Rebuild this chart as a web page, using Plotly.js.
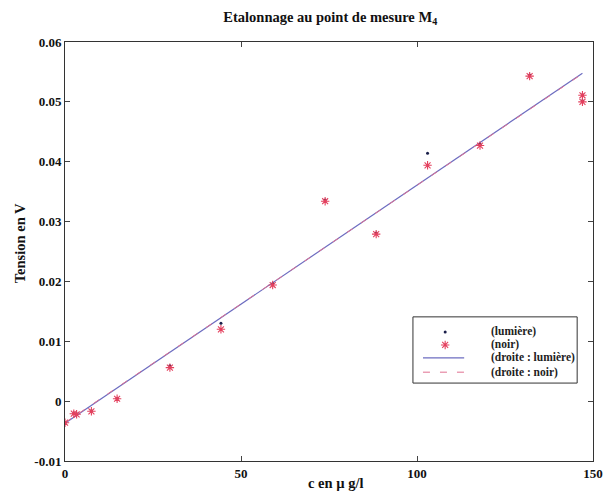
<!DOCTYPE html>
<html><head><meta charset="utf-8">
<script src="https://cdn.plot.ly/plotly-3.0.1.min.js"></script>
<style>body{margin:0;background:#fff}#c{width:606px;height:501px}</style>
</head><body><div id="c"></div>
<script>
// concentration (µg/l)
const conc = [0, 2.5, 3.3, 7.5, 14.8, 29.8, 44.3, 59, 73.9, 88.4, 103, 117.9, 132, 147, 147];
// tension, lumière
const lumiere = [-0.0036, -0.0020, -0.0021, -0.0016, 0.0005, 0.0059, 0.0130, 0.0196, 0.0336, 0.0281, 0.0414, 0.0429, 0.0545, 0.0512, 0.0502];
// tension, noir
const noir = [-0.0036, -0.0021, -0.0022, -0.0017, 0.0004, 0.0056, 0.0120, 0.0194, 0.0334, 0.0279, 0.0394, 0.0427, 0.0543, 0.0511, 0.0500];
// fitted lines
const fitX = [0, 147];
const fitLumiere = [-0.0037, 0.0548];
const fitNoir = [-0.0036, 0.0547];
const yTicks = [-0.01, 0, 0.01, 0.02, 0.03, 0.04, 0.05, 0.06];
const yTickText = ['-0.01', '0', '0.01', '0.02', '0.03', '0.04', '0.05', '0.06'];
const xTicks = [0, 50, 100, 150];
const legendNames = ['(lumière)', '(noir)', '(droite : lumière)', '(droite : noir)'];

const FAM = 'Liberation Serif, Times New Roman, serif';
const colDot = '#1a1f4a', colStar = '#e4405e', colLine = '#6c6cc0', colDash = '#e07090';

// manual legend geometry (paper coords)
const LG = {x0: 0.659, x1: 0.970, y0: 0.186, y1: 0.344, rows: [0.308, 0.277, 0.246, 0.212],
            mx: 0.720, lx0: 0.678, lx1: 0.756, tx: 0.803};

const data = [
  {x: fitX, y: fitLumiere, mode: 'lines', name: legendNames[2], line: {color: colLine, width: 1.2}},
  {x: fitX, y: fitNoir, mode: 'lines', name: legendNames[3], line: {color: colDash, width: 1, dash: '7px,10px'}},
  {x: conc, y: lumiere, mode: 'markers', name: legendNames[0], marker: {symbol: 'circle', size: 3, color: colDot}},
  {x: conc, y: noir, mode: 'markers', name: legendNames[1],
   marker: {symbol: 'asterisk-open', size: 7, color: colStar, line: {color: colStar, width: 1.1}}},
  // legend marker samples
  {x: [LG.mx], y: [LG.rows[0]], xaxis: 'x2', yaxis: 'y2', mode: 'markers', hoverinfo: 'skip',
   marker: {symbol: 'circle', size: 3, color: colDot}},
  {x: [LG.mx], y: [LG.rows[1]], xaxis: 'x2', yaxis: 'y2', mode: 'markers', hoverinfo: 'skip',
   marker: {symbol: 'asterisk-open', size: 7, color: colStar, line: {color: colStar, width: 1.1}}}
];

const shapes = [
  {type: 'rect', xref: 'paper', yref: 'paper', x0: LG.x0, x1: LG.x1, y0: LG.y0, y1: LG.y1,
   line: {color: '#333', width: 1}, fillcolor: '#fff', layer: 'below'},
  {type: 'line', xref: 'paper', yref: 'paper', x0: LG.lx0, x1: LG.lx1, y0: LG.rows[2], y1: LG.rows[2],
   line: {color: colLine, width: 1.2}},
  {type: 'line', xref: 'paper', yref: 'paper', x0: LG.lx0, x1: LG.lx1, y0: LG.rows[3], y1: LG.rows[3],
   line: {color: colDash, width: 1, dash: '7px,10px'}}
];
const annotations = legendNames.map((t, i) => ({
  xref: 'paper', yref: 'paper', x: LG.tx, y: LG.rows[i], xanchor: 'left', yanchor: 'middle',
  text: '<b>' + t + '</b>', showarrow: false, font: {family: FAM, size: 11.5, color: '#222'}
}));
annotations.push(
  {xref: 'paper', yref: 'paper', x: 0.513, y: -0.052, xanchor: 'center', yanchor: 'middle', showarrow: false,
   text: '<b>c en µ g/l</b>', font: {family: FAM, size: 14.5, color: '#111'}},
  {xref: 'paper', yref: 'paper', x: -0.085, y: 0.52, xanchor: 'center', yanchor: 'middle', showarrow: false,
   textangle: -90, text: '<b>Tension en V</b>', font: {family: FAM, size: 14.5, color: '#111'}}
);

const layout = {
  width: 606, height: 501,
  margin: {l: 65, r: 13, t: 42, b: 40},
  paper_bgcolor: '#fff', plot_bgcolor: '#fff',
  font: {family: FAM, color: '#111'},
  showlegend: false,
  title: {text: '<b>Etalonnage au point de mesure M<sub>4</sub></b>', x: 0.545, xanchor: 'center',
          y: 0.966, yanchor: 'middle', font: {family: FAM, size: 14.5, color: '#111'}},
  xaxis: {range: [0, 150], tickvals: xTicks, ticktext: xTicks.map(String), ticks: 'inside', ticklen: 5,
          showline: true, linecolor: '#333', linewidth: 1, mirror: 'ticks', showgrid: false, zeroline: false,
          tickfont: {family: FAM, size: 13, weight: 'bold', color: '#111'}},
  yaxis: {range: [-0.01, 0.06], tickvals: yTicks, ticktext: yTickText, ticks: 'inside', ticklen: 5,
          showline: true, linecolor: '#333', linewidth: 1, mirror: 'ticks', showgrid: false, zeroline: false,
          tickfont: {family: FAM, size: 13, weight: 'bold', color: '#111'}},
  xaxis2: {range: [0, 1], overlaying: 'x', visible: false, fixedrange: true},
  yaxis2: {range: [0, 1], overlaying: 'y', visible: false, fixedrange: true},
  shapes: shapes,
  annotations: annotations
};
Plotly.newPlot('c', data, layout, {displayModeBar: false, staticPlot: true});
</script></body></html>
